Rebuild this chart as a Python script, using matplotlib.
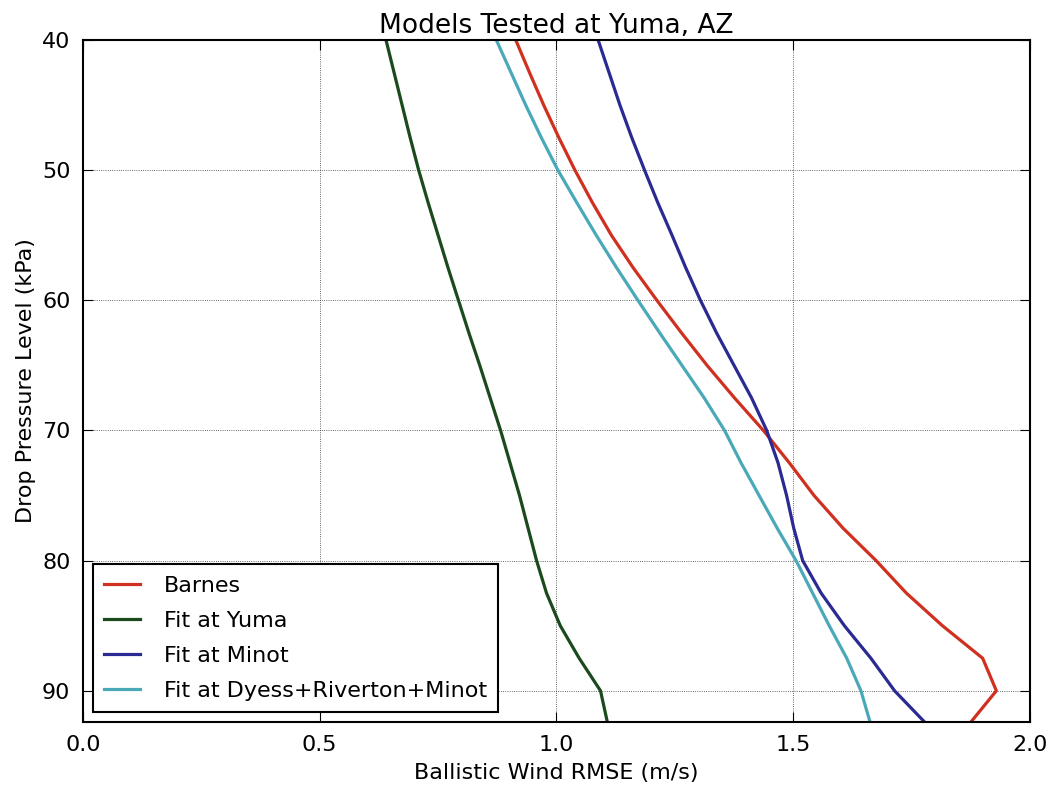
import matplotlib
matplotlib.use("Agg")
import matplotlib.pyplot as plt

pressure = [40, 42.5, 45, 47.5, 50, 52.5, 55, 57.5, 60, 62.5, 65, 67.5, 70,
            72.5, 75, 77.5, 80, 82.5, 85, 87.5, 90, 92.5]

barnes = [0.914, 0.943, 0.973, 1.005, 1.039, 1.076, 1.116, 1.162, 1.212, 1.264,
          1.318, 1.376, 1.437, 1.492, 1.544, 1.605, 1.675, 1.739, 1.815, 1.900,
          1.929, 1.873]
fit_yuma = [0.640, 0.657, 0.674, 0.691, 0.709, 0.729, 0.750, 0.771, 0.793, 0.815,
            0.838, 0.860, 0.882, 0.902, 0.922, 0.940, 0.958, 0.979, 1.008, 1.048,
            1.093, 1.108]
fit_minot = [1.088, 1.111, 1.134, 1.159, 1.186, 1.214, 1.244, 1.273, 1.304, 1.338,
             1.375, 1.412, 1.444, 1.468, 1.486, 1.501, 1.520, 1.559, 1.608, 1.664,
             1.714, 1.780]
fit_drm = [0.873, 0.904, 0.935, 0.968, 1.003, 1.043, 1.084, 1.127, 1.172, 1.218,
           1.265, 1.312, 1.355, 1.390, 1.428, 1.466, 1.506, 1.541, 1.576, 1.613,
           1.643, 1.663]

labels = ["Barnes", "Fit at Yuma", "Fit at Minot", "Fit at Dyess+Riverton+Minot"]
colors = ["#d0301f", "#1b4a1e", "#2a2a92", "#4aa9b8"]
series = [barnes, fit_yuma, fit_minot, fit_drm]

xticks = [0.0, 0.5, 1.0, 1.5, 2.0]
yticks = [40, 50, 60, 70, 80, 90]

plt.rcParams['font.family'] = ['DejaVu Sans']
fig = plt.figure(figsize=(10.46, 7.89), dpi=100)
ax = fig.add_axes([0.0793, 0.0849, 0.9054, 0.8644])

for s, lab, c in zip(series, labels, colors):
    ax.plot(s, pressure, color=c, lw=2.3, label=lab)

ax.set_xlim(0, 2.0)
ax.set_ylim(92.4, 40)
ax.set_xticks(xticks)
ax.set_xticklabels([f"{v:.1f}" for v in xticks])
ax.set_yticks(yticks)
ax.grid(True, color='black', linestyle=':', linewidth=0.6, alpha=0.8)
ax.tick_params(direction='in', top=True, right=True, labelsize=16, length=7, pad=9)
for sp in ax.spines.values():
    sp.set_linewidth(1.5)

ax.set_xlabel("Ballistic Wind RMSE (m/s)", fontsize=16, labelpad=6)
ax.set_ylabel("Drop Pressure Level (kPa)", fontsize=16, labelpad=4)
ax.set_title("Models Tested at Yuma, AZ", fontsize=19, pad=5)

leg = ax.legend(loc='lower left', fontsize=16, fancybox=False, framealpha=1,
                edgecolor='black', handlelength=1.6, borderaxespad=0.45,
                handletextpad=1.1, labelspacing=0.68, borderpad=0.5)
leg.get_frame().set_linewidth(1.5)

fig.savefig("out.png", dpi=100)
